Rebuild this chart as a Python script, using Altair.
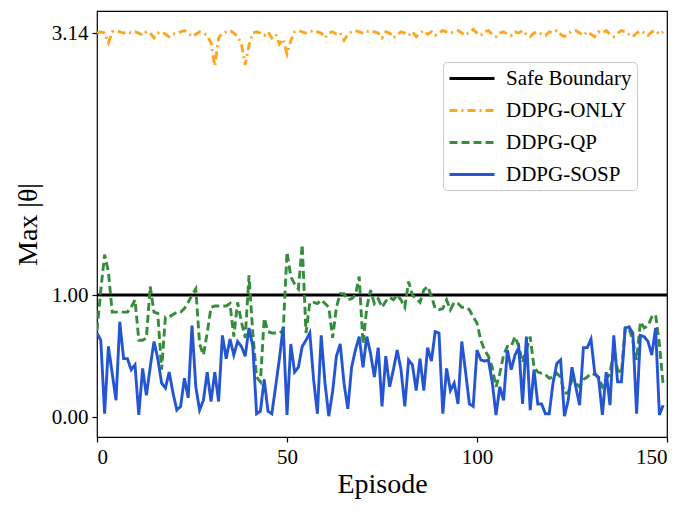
import altair as alt
import pandas as pd

episodes = list(range(150))

ddpg_only = [
    3.14, 3.15, 3.14, 3.06, 3.15, 3.16, 3.15, 3.14, 3.15, 3.14,
    3.15, 3.14, 3.12, 3.15, 3.14, 3.10, 3.14, 3.15, 3.13, 3.11,
    3.13, 3.14, 3.15, 3.16, 3.14, 3.11, 3.13, 3.15, 3.14, 3.12,
    3.06, 2.87, 3.10, 3.14, 3.15, 3.16, 3.14, 3.11, 3.05, 2.88,
    3.04, 3.14, 3.15, 3.14, 3.12, 3.15, 3.10, 3.13, 3.05, 3.09,
    2.97, 3.08, 3.15, 3.16, 3.15, 3.14, 3.15, 3.16, 3.15, 3.14,
    3.10, 3.14, 3.15, 3.13, 3.14, 3.08, 3.13, 3.15, 3.16, 3.15,
    3.14, 3.15, 3.16, 3.15, 3.14, 3.10, 3.15, 3.14, 3.10, 3.13,
    3.15, 3.14, 3.12, 3.15, 3.11, 3.14, 3.16, 3.13, 3.15, 3.12,
    3.14, 3.16, 3.15, 3.14, 3.15, 3.16, 3.14, 3.12, 3.15, 3.17,
    3.14, 3.12, 3.15, 3.16, 3.13, 3.11, 3.14, 3.15, 3.13, 3.12,
    3.15, 3.14, 3.16, 3.13, 3.11, 3.14, 3.15, 3.13, 3.12, 3.15,
    3.14, 3.16, 3.13, 3.11, 3.14, 3.15, 3.16, 3.14, 3.12, 3.15,
    3.13, 3.11, 3.15, 3.14, 3.16, 3.13, 3.11, 3.14, 3.16, 3.15,
    3.13, 3.11, 3.14, 3.16, 3.14, 3.12, 3.15, 3.16, 3.13, 3.15,
]

ddpg_qp = [
    0.71, 1.04, 1.33, 1.19, 0.86, 0.86, 0.86, 0.86, 0.86, 0.90,
    0.96, 0.63, 0.63, 0.65, 1.07, 0.86, 0.85, 0.39, 0.82, 0.82,
    0.84, 0.86, 0.86, 0.89, 0.94, 1.00, 1.05, 0.60, 0.51, 0.69,
    0.90, 0.91, 0.91, 0.91, 0.91, 0.93, 0.66, 0.94, 0.78, 0.65,
    1.16, 0.69, 0.33, 0.29, 0.81, 0.70, 0.69, 0.69, 0.69, 0.71,
    1.35, 1.15, 1.09, 1.05, 1.41, 0.69, 0.94, 0.94, 0.93, 0.96,
    0.93, 0.90, 0.65, 0.90, 1.01, 1.01, 0.96, 0.97, 1.00, 1.15,
    0.60, 0.90, 1.04, 0.93, 0.97, 0.90, 0.95, 0.98, 0.96, 1.00,
    0.96, 0.90, 1.11, 1.00, 0.97, 0.94, 1.04, 1.07, 0.99, 0.89,
    0.88, 0.89, 0.96, 0.88, 0.94, 0.93, 0.90, 0.90, 0.88, 0.82,
    0.77, 0.63, 0.55, 0.50, 0.41, 0.25, 0.36, 0.51, 0.58, 0.58,
    0.66, 0.58, 0.45, 0.55, 0.66, 0.41, 0.37, 0.36, 0.35, 0.32,
    0.33, 0.36, 0.33, 0.20, 0.20, 0.31, 0.28, 0.25, 0.31, 0.33,
    0.36, 0.35, 0.33, 0.25, 0.31, 0.36, 0.55, 0.39, 0.36, 0.73,
    0.73, 0.63, 0.47, 0.78, 0.73, 0.75, 0.82, 0.84, 0.60, 0.26,
]

ddpg_sosp = [
    0.69, 0.63, 0.03, 0.58, 0.36, 0.14, 0.78, 0.48, 0.48, 0.39,
    0.43, 0.02, 0.40, 0.18, 0.41, 0.62, 0.48, 0.28, 0.24, 0.37,
    0.20, 0.06, 0.09, 0.32, 0.16, 0.75, 0.25, 0.06, 0.14, 0.37,
    0.13, 0.37, 0.13, 0.67, 0.48, 0.64, 0.51, 0.62, 0.58, 0.50,
    0.73, 0.58, 0.03, 0.05, 0.31, 0.05, 0.03, 0.25, 0.48, 0.74,
    0.02, 0.60, 0.37, 0.41, 0.58, 0.63, 0.69, 0.31, 0.03, 0.67,
    0.28, 0.01, 0.21, 0.50, 0.60, 0.28, 0.07, 0.41, 0.55, 0.66,
    0.41, 0.66, 0.52, 0.33, 0.57, 0.09, 0.50, 0.25, 0.39, 0.55,
    0.39, 0.09, 0.47, 0.43, 0.22, 0.48, 0.22, 0.57, 0.46, 0.70,
    0.69, 0.03, 0.40, 0.22, 0.28, 0.11, 0.62, 0.37, 0.11, 0.09,
    0.55, 0.47, 0.46, 0.47, 0.29, 0.02, 0.25, 0.14, 0.55, 0.39,
    0.51, 0.57, 0.11, 0.66, 0.06, 0.39, 0.11, 0.11, 0.03, 0.03,
    0.28, 0.44, 0.47, 0.01, 0.14, 0.41, 0.25, 0.10, 0.57, 0.57,
    0.64, 0.36, 0.32, 0.02, 0.37, 0.10, 0.67, 0.29, 0.29, 0.73,
    0.74, 0.69, 0.03, 0.67, 0.66, 0.62, 0.51, 0.73, 0.02, 0.10,
]

boundary_x = [0, 150]
boundary_y = [1.0, 1.0]

series_names = ["Safe Boundary", "DDPG-ONLY", "DDPG-QP", "DDPG-SOSP"]
series_colors = ["#000000", "#FFA51F", "#358D3B", "#2456D3"]
series_dashes = [[1, 0], [8, 4, 2, 4], [8, 4], [1, 0]]

rows = []
for x, y in zip(boundary_x, boundary_y):
    rows.append({"episode": x, "value": y, "series": "Safe Boundary"})
for name, vals in [("DDPG-ONLY", ddpg_only), ("DDPG-QP", ddpg_qp), ("DDPG-SOSP", ddpg_sosp)]:
    for x, y in zip(episodes, vals):
        rows.append({"episode": x, "value": y, "series": name})
df = pd.DataFrame(rows)

FONT = "Liberation Serif"

leg = alt.Legend(title=None, orient="none", legendX=346, legendY=51)

base = alt.Chart(df).encode(
    x=alt.X("episode:Q", scale=alt.Scale(domain=[0, 150], nice=False, zero=False),
            axis=alt.Axis(values=[0, 50, 100, 150], title="Episode", format="d")),
    y=alt.Y("value:Q", scale=alt.Scale(domain=[-0.16, 3.32], nice=False, zero=False),
            axis=alt.Axis(values=[0, 1, 3.14], format=".2f", title="Max |θ|")),
    color=alt.Color("series:N", scale=alt.Scale(domain=series_names, range=series_colors), legend=leg),
    strokeDash=alt.StrokeDash("series:N", scale=alt.Scale(domain=series_names, range=series_dashes), legend=leg),
)

layers = []
for name in series_names:
    layers.append(
        base.transform_filter(alt.datum.series == name).mark_line(strokeWidth=2.9, clip=True)
    )

chart = alt.layer(*layers).properties(
    width=570, height=426,
    autosize=alt.AutoSizeParams(type="none"),
    padding={"left": 89, "top": 3, "right": 22, "bottom": 76},
).configure(
    font=FONT
).configure_view(
    stroke="black", strokeWidth=1.2
).configure_axis(
    domain=False, grid=False, ticks=True, tickColor="black", tickSize=5, tickWidth=1.2,
    labelFont=FONT, labelFontSize=21, labelColor="black", labelPadding=4,
    titleFont=FONT, titleFontSize=28, titleFontWeight="normal", titleColor="black",
).configure_axisX(titlePadding=3).configure_axisY(titlePadding=9).configure_legend(
    labelFont=FONT, labelFontSize=21, labelColor="black",
    symbolType="M-1,0H3.5", symbolSize=400, symbolStrokeWidth=3,
    strokeColor="#cccccc", fillColor="white", cornerRadius=4,
    padding=5, rowPadding=10, labelOffset=35,
)

chart.save("out.html", embed_options={"renderer": "svg", "actions": False})
